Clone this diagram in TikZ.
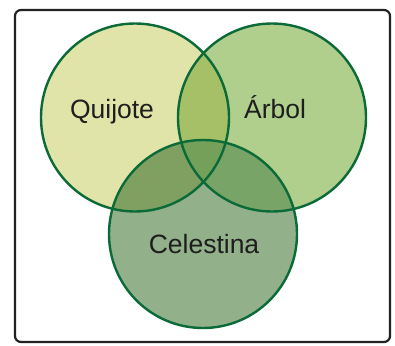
\documentclass[tikz,border=0pt]{standalone}
\usepackage{fontspec}
\setmainfont{Liberation Sans}
\definecolor{qfill}{HTML}{E0E4A8}
\definecolor{afill}{HTML}{B0CE8C}
\definecolor{cfill}{HTML}{92B08A}
\definecolor{qafill}{HTML}{A5C066}
\definecolor{qcfill}{HTML}{80A062}
\definecolor{acfill}{HTML}{79A468}
\definecolor{allfill}{HTML}{74A05A}
\definecolor{rim}{HTML}{0A6B38}
\definecolor{frame}{HTML}{222222}
\definecolor{ink}{HTML}{1E1E1E}
\begin{document}
\begin{tikzpicture}[x=1pt,y=-1pt,
  rimline/.style={draw=rim,line width=2.4pt},
  lbl/.style={text=ink,font=\fontsize{26.5}{30}\selectfont,inner sep=0pt}]
\useasboundingbox (0,0) rectangle (395,345);
\fill[white] (0,0) rectangle (395,345);
\draw[frame,line width=2.2pt,rounded corners=6pt] (15,10) rectangle (390,342);
\def\qc{(135,117.5)}
\def\ac{(272,117.5)}
\def\cc{(203,234)}
\def\rr{94}
\fill[qfill] \qc circle (\rr);
\fill[afill] \ac circle (\rr);
\fill[cfill] \cc circle (\rr);
\begin{scope}
  \clip \qc circle (\rr);
  \fill[qafill] \ac circle (\rr);
  \fill[qcfill] \cc circle (\rr);
\end{scope}
\begin{scope}
  \clip \ac circle (\rr);
  \fill[acfill] \cc circle (\rr);
\end{scope}
\begin{scope}
  \clip \qc circle (\rr);
  \clip \ac circle (\rr);
  \fill[allfill] \cc circle (\rr);
\end{scope}
\draw[rimline] \qc circle (\rr);
\draw[rimline] \ac circle (\rr);
\draw[rimline] \cc circle (\rr);
\node[lbl] (q) at (112,112) {Quijote};
\node[lbl] (a) at (275,107) {Árbol};
\node[lbl] (c) at (204,244) {Celestina};
\end{tikzpicture}
\end{document}
